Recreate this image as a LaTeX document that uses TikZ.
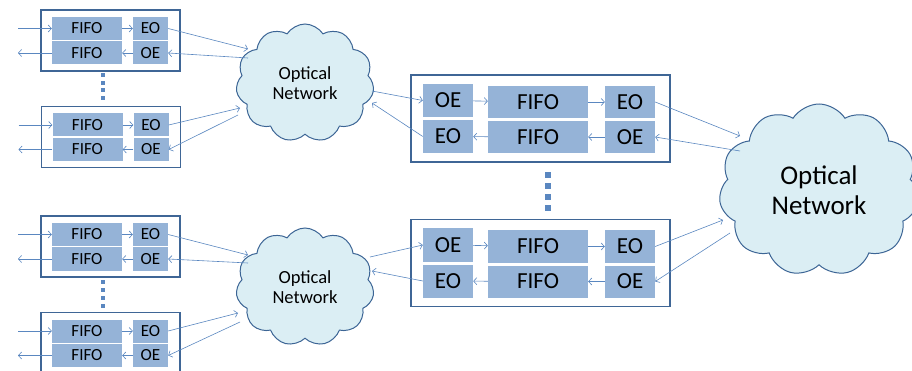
\documentclass[tikz,border=0pt]{standalone}
\usepackage{fontspec}
\setmainfont{Carlito}
\usetikzlibrary{shapes.symbols,arrows.meta,calc}
\definecolor{boxblue}{HTML}{95B3D7}
\definecolor{frameblue}{HTML}{3F6696}
\definecolor{linkblue}{HTML}{5A87C0}
\definecolor{cloudfill}{HTML}{DBEEF4}
\definecolor{cloudline}{HTML}{3C6595}
\begin{document}
\begin{tikzpicture}[x=1pt,y=-1pt,
  link/.style={draw=linkblue,line width=0.6pt,-{Straight Barb[length=3.2pt,width=7pt]}},
  smallframe/.style={rectangle,draw=frameblue,line width=1.5pt,fill=white,minimum width=139pt,minimum height=61pt,inner sep=0},
  bigframe/.style={rectangle,draw=frameblue,line width=1.7pt,fill=white,minimum width=259pt,minimum height=87pt,inner sep=0},
  sbox/.style={rectangle,fill=boxblue,inner sep=0,minimum height=23pt,font=\fontsize{17}{17}\selectfont},
  mbox/.style={rectangle,fill=boxblue,inner sep=0,minimum height=32pt,font=\fontsize{23}{23}\selectfont},
  netcloud/.style={cloud,cloud puffs=11,cloud puff arc=115,cloud ignores aspect,draw=cloudline,line width=1pt,fill=cloudfill,inner sep=0,align=center},
  sqdot/.style={rectangle,fill=linkblue,inner sep=0,minimum size=#1},
  unitsmall/.pic={
    \node[smallframe] (-frame) at (0,0) {};
    \node[sbox,minimum width=70pt] (-fi) at (-23.5,-12) {FIFO};
    \node[sbox,minimum width=35pt] (-eo) at (40,-12) {EO};
    \node[sbox,minimum width=70pt] (-fo) at (-23.5,12.5) {FIFO};
    \node[sbox,minimum width=35pt] (-oe) at (40,12.5) {OE};
    \coordinate (-in) at (-92.5,-12);
    \coordinate (-out) at (-92.5,12.5);
    \draw[link] (-in) -- (-fi);
    \draw[link] (-fi) -- (-eo);
    \draw[link] (-oe) -- (-fo);
    \draw[link] (-fo) -- (-out);
  },
  unitmid/.pic={
    \node[bigframe] (-frame) at (0,0) {};
    \node[mbox,minimum width=50pt,minimum height=33pt] (-oi) at (-92.5,-18) {OE};
    \node[mbox,minimum width=100pt] (-fi) at (-2.5,-16.5) {FIFO};
    \node[mbox,minimum width=50pt] (-eo) at (89.5,-16.5) {EO};
    \node[mbox,minimum width=50pt,minimum height=33pt] (-ei) at (-92.5,18) {EO};
    \node[mbox,minimum width=100pt] (-fo) at (-2.5,18.5) {FIFO};
    \node[mbox,minimum width=50pt] (-oe) at (89.5,18.5) {OE};
    \draw[link] (-oi) -- (-fi);
    \draw[link] (-fi) -- (-eo);
    \draw[link] (-oe) -- (-fo);
    \draw[link] (-fo) -- (-ei);
  }]
\clip (0,0) rectangle (912,371);

% edge terminals
\pic (A1) at (110.5,40.5) {unitsmall};
\pic (A2) at (111,137) {unitsmall};
\pic (B1) at (110.5,246.5) {unitsmall};
\pic (B2) at (110.5,343) {unitsmall};
\foreach \i/\yy in {1/75.5,2/83,3/90.5,4/98}
  \node[sqdot=4pt] (da\i) at (103,\yy) {};
\foreach \i/\yy in {1/282,2/290,3/298,4/306}
  \node[sqdot=4pt] (db\i) at (103,\yy) {};

% aggregation nodes
\pic (M1) at (540.5,118.5) {unitmid};
\pic (M2) at (540.5,263) {unitmid};
\foreach \i/\yy in {1/175,2/186,3/197,4/208}
  \node[sqdot=6pt] (dm\i) at (548,\yy) {};

% optical networks
\node[netcloud,minimum width=138pt,minimum height=118pt,font=\fontsize{18.5}{20.5}\selectfont] (C1) at (305,83) {Optical\\Network};
\node[netcloud,minimum width=138pt,minimum height=118pt,font=\fontsize{18.5}{20.5}\selectfont] (C2) at (305,287) {Optical\\Network};
\node[netcloud,minimum width=200pt,minimum height=172pt,font=\fontsize{27}{30}\selectfont] (C3) at (819,190) {Optical\\Network};

% links to the first network
\draw[link] (A1-eo.east) -- ($(C1)+(-57,-34)$);
\draw[link] ($(C1)+(-57,-25)$) -- (A1-oe.east);
\draw[link] (A2-eo.east) -- ($(C1)+(-65,25)$);
\draw[link] ($(C1)+(-67,32)$) -- (A2-oe.east);
\draw[link] ($(C1)+(67,8)$) -- (M1-oi.west);
\draw[link] (M1-ei.west) -- ($(C1)+(67,20)$);

% links to the second network
\draw[link] (B1-eo.east) -- ($(C2)+(-57,-32)$);
\draw[link] ($(C2)+(-57,-24)$) -- (B1-oe.east);
\draw[link] (B2-eo.east) -- ($(C2)+(-67,26)$);
\draw[link] ($(C2)+(-65,35)$) -- (B2-oe.east);
\draw[link] ($(C2)+(65,-30)$) -- (M2-oi.west);
\draw[link] (M2-ei.west) -- ($(C2)+(67,-16)$);

% links to the core network
\draw[link] (M1-eo.east) -- ($(C3)+(-79,-54)$);
\draw[link] ($(C3)+(-79,-39)$) -- (M1-oe.east);
\draw[link] (M2-eo.east) -- ($(C3)+(-96,30)$);
\draw[link] ($(C3)+(-89,43)$) -- (M2-oe.east);
\end{tikzpicture}
\end{document}
